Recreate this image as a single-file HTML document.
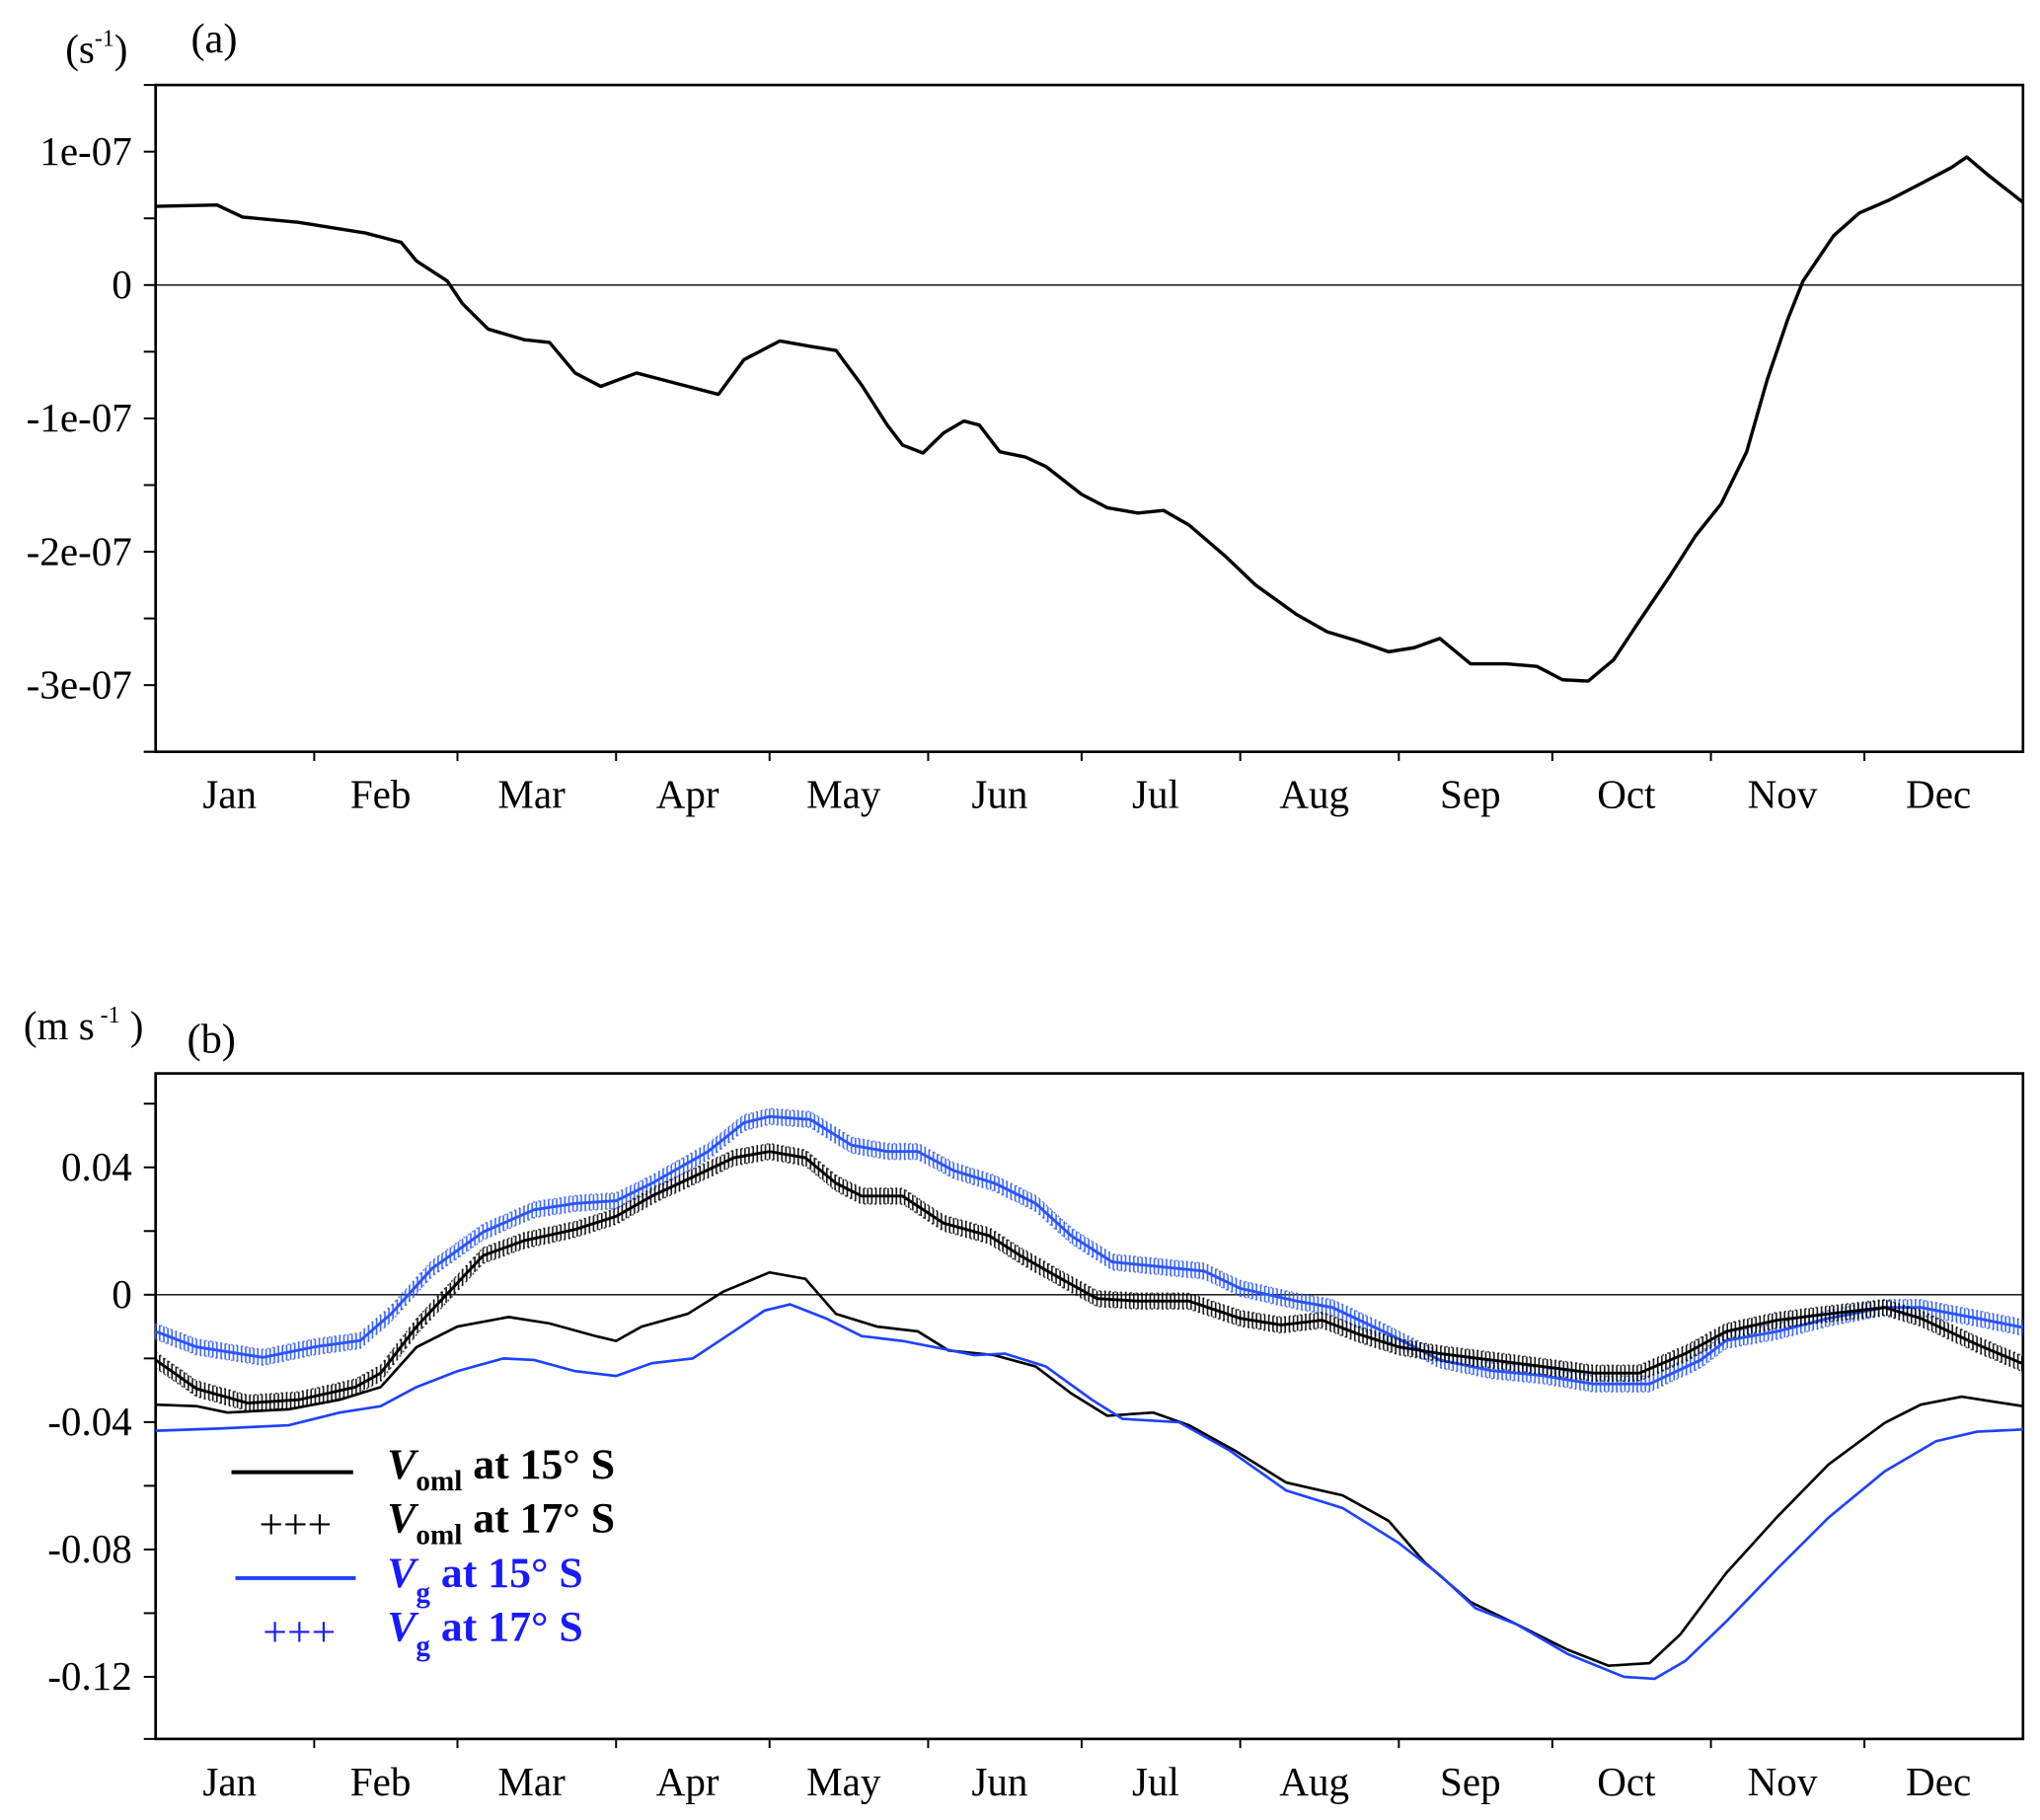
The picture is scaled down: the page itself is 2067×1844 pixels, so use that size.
<!DOCTYPE html>
<html><head><meta charset="utf-8"><style>
html,body{margin:0;padding:0;background:#fff;}
svg{display:block;font-family:"Liberation Serif",serif;}
</style></head><body>
<svg id="c" width="2067" height="1844" viewBox="0 0 1560 1392" preserveAspectRatio="none" xmlns="http://www.w3.org/2000/svg"></svg>
<script>
// ---- Data ----
const months = ["Jan","Feb","Mar","Apr","May","Jun","Jul","Aug","Sep","Oct","Nov","Dec"];
const monthDays = [31,28,31,30,31,30,31,31,30,31,30,31];
// Panel (a): units of 1e-7 s^-1
const aDays = [0,12,17,28,41,48,51,57,60,65,72,77,82,87,94,103,110,115,122,128,133,138,143,146,150,154,158,161,165,170,174,181,186,192,197,202,209,215,223,229,235,241,246,251,257,264,270,275,280,285,290,296,301,306,311,315,319,322,328,333,339,345,351,354,358,365];
const aVals = [0.59,0.6,0.51,0.47,0.39,0.32,0.18,0.03,-0.14,-0.33,-0.41,-0.43,-0.66,-0.76,-0.66,-0.75,-0.82,-0.56,-0.42,-0.46,-0.49,-0.75,-1.05,-1.2,-1.26,-1.11,-1.02,-1.05,-1.25,-1.29,-1.36,-1.57,-1.67,-1.71,-1.69,-1.8,-2.03,-2.25,-2.47,-2.6,-2.67,-2.75,-2.72,-2.65,-2.84,-2.84,-2.86,-2.96,-2.97,-2.81,-2.52,-2.18,-1.88,-1.64,-1.25,-0.71,-0.26,0.03,0.37,0.54,0.64,0.76,0.88,0.96,0.83,0.62];
const aTicks = [1,0,-1,-2,-3];
const aTickLabels = ["1e-07","0","-1e-07","-2e-07","-3e-07"];
// Panel (b): m/s
const vo15Days = [0,8,14,26,36,44,51,59,69,77,86,90,95,104,111,120,127,133,141,149,155,164,172,179,186,195,202,211,221,232,241,248,257,266,276,284,292,298,307,317,327,338,345,353,361,365];
const vo15Vals = [-0.0345,-0.035,-0.037,-0.036,-0.033,-0.029,-0.0165,-0.010,-0.007,-0.009,-0.013,-0.0145,-0.010,-0.006,0.001,0.007,0.005,-0.006,-0.010,-0.0115,-0.0175,-0.019,-0.0225,-0.031,-0.038,-0.037,-0.041,-0.049,-0.059,-0.063,-0.071,-0.084,-0.0965,-0.1035,-0.1115,-0.1165,-0.1157,-0.1067,-0.0874,-0.0697,-0.0533,-0.0402,-0.0345,-0.032,-0.034,-0.035];
const vg15Days = [0,13,26,36,44,51,59,68,74,82,90,97,105,113,119,124,131,138,146,154,160,166,174,183,189,200,210,221,232,243,251,258,266,276,287,293,299,307,317,327,338,348,356,365];
const vg15Vals = [-0.0427,-0.042,-0.041,-0.037,-0.035,-0.029,-0.024,-0.020,-0.0205,-0.024,-0.0255,-0.0215,-0.020,-0.0115,-0.005,-0.003,-0.0074,-0.013,-0.0145,-0.017,-0.019,-0.0185,-0.0225,-0.033,-0.039,-0.040,-0.049,-0.0615,-0.067,-0.078,-0.088,-0.0985,-0.1035,-0.1128,-0.12,-0.1206,-0.115,-0.1026,-0.086,-0.070,-0.0554,-0.046,-0.043,-0.0423];
const vo17Days = [0,8,18,28,39,44,51,58,64,72,82,90,97,105,113,120,127,133,138,146,154,163,169,177,184,192,202,212,220,228,235,243,251,261,271,281,290,299,307,317,327,338,345,356,365];
const vo17Vals = [-0.0205,-0.0295,-0.034,-0.033,-0.029,-0.0246,-0.010,0.002,0.0123,0.017,0.0205,0.0246,0.031,0.037,0.043,0.045,0.043,0.035,0.031,0.031,0.0225,0.0185,0.0123,0.005,-0.0012,-0.002,-0.002,-0.0074,-0.0095,-0.008,-0.0123,-0.0164,-0.0185,-0.0205,-0.0225,-0.0246,-0.0246,-0.0185,-0.0115,-0.008,-0.006,-0.004,-0.0074,-0.0156,-0.0217];
const vg17Days = [0,8,21,31,40,46,54,64,74,82,90,97,108,115,120,128,136,143,149,156,164,172,179,187,195,205,212,223,230,241,251,261,271,281,292,302,307,317,327,338,345,356,365];
const vg17Vals = [-0.0115,-0.0164,-0.0197,-0.0164,-0.0144,-0.006,0.0082,0.0197,0.0267,0.0287,0.0295,0.035,0.045,0.054,0.056,0.055,0.047,0.045,0.045,0.039,0.035,0.0287,0.0185,0.0103,0.009,0.0074,0.002,-0.002,-0.004,-0.0123,-0.0205,-0.0238,-0.0254,-0.028,-0.028,-0.0205,-0.0144,-0.0115,-0.0074,-0.004,-0.004,-0.0074,-0.0103];
const bTicks = [0.04,0,-0.04,-0.08,-0.12];
const bTickLabels = ["0.04","0","-0.04","-0.08","-0.12"];

// ---- Drawing ----
const NS="http://www.w3.org/2000/svg";
const svg=document.getElementById('c');
function mk(tag,attrs,parent){const e=document.createElementNS(NS,tag);for(const k in attrs)e.setAttribute(k,attrs[k]);(parent||svg).appendChild(e);return e;}
const L=119,R=1547;
const xS=d=>L+d*(R-L)/365;
function interp(ds,vs,d){for(let i=1;i<ds.length;i++){if(d<=ds[i]){const t=(d-ds[i-1])/(ds[i]-ds[i-1]);return vs[i-1]+t*(vs[i]-vs[i-1]);}}return vs[vs.length-1];}

function panel(name,top,bottom,vmax,vmin,ticks,labels,minorStep){
  const g=mk('g',{});
  
  
  const yS=v=>top+(vmax-v)*(bottom-top)/(vmax-vmin);
  const fr=mk('rect',{x:L,y:top,width:R-L,height:bottom-top,fill:'none',stroke:'#000','stroke-width':2},g);
  
  
  const z=mk('line',{x1:L,x2:R,y1:yS(0),y2:yS(0),stroke:'#000','stroke-width':1},g);
  
  
  for(let v=Math.ceil(vmin/minorStep)*minorStep; v<=vmax+1e-12; v+=minorStep){
    mk('line',{x1:L-9,x2:L,y1:yS(v),y2:yS(v),stroke:'#000','stroke-width':1.5},g);
  }
  ticks.forEach((v,i)=>{
    const t=mk('text',{x:101,y:yS(v)+10,'text-anchor':'end','font-size':31},g);
    t.textContent=labels[i];
    
    
  });
  mk('line',{x1:L-9,x2:L,y1:bottom,y2:bottom,stroke:'#000','stroke-width':1.5},g);
  let cum=0;
  months.forEach((m,i)=>{
    const mid=cum+monthDays[i]/2;
    cum+=monthDays[i];
    if(i<11) mk('line',{x1:xS(cum),x2:xS(cum),y1:bottom,y2:bottom+7,stroke:'#000','stroke-width':1.5},g);
    const t=mk('text',{x:xS(mid)-4,y:bottom+43,'text-anchor':'middle','font-size':31},g);
    t.textContent=m;
    
    
  });
  return {g,yS};
}

function linePath(ds,vs,yS){return ds.map((d,i)=>(i?'L':'M')+xS(d).toFixed(1)+','+yS(vs[i]).toFixed(1)).join('');}

const A=panel('panel-a',65,575,1.5,-3.5,aTicks,aTickLabels,0.5);
const pa=mk('path',{d:linePath(aDays,aVals,A.yS),fill:'none',stroke:'#000','stroke-width':2.6,'stroke-linejoin':'round'},A.g);



const B=panel('panel-b',821,1330,0.0695,-0.1395,bTicks,bTickLabels,0.02);
function plusSeries(ds,vs,color,name){
  const g=mk('g',{},B.g);
  
  
  let dU='',dL='',dV='';
  for(let d=0; d<=365; d+=0.8){
    const x=xS(d), y=B.yS(interp(ds,vs,d));
    dU+=(d?'L':'M')+x.toFixed(1)+','+(y-6).toFixed(1);
    dL+=(d?'L':'M')+x.toFixed(1)+','+(y+6).toFixed(1);
    dV+='M'+x.toFixed(1)+','+(y-6).toFixed(1)+'v12';
  }
  mk('path',{d:dV,stroke:color,'stroke-width':1.2,fill:'none',opacity:0.9},g);
  mk('path',{d:dU,stroke:color,'stroke-width':1.2,fill:'none','stroke-dasharray':'1.5 2.5',opacity:0.7},g);
  mk('path',{d:dL,stroke:color,'stroke-width':1.2,fill:'none','stroke-dasharray':'1.5 2.5',opacity:0.7},g);
  mk('path',{d:linePath(ds,vs,B.yS),stroke:color,'stroke-width':2.2,fill:'none'},g);
}
plusSeries(vg17Days,vg17Vals,'#2a55ff','vg-17s-series');
plusSeries(vo17Days,vo17Vals,'#000','voml-17s-series');
const l1=mk('path',{d:linePath(vo15Days,vo15Vals,B.yS),fill:'none',stroke:'#000','stroke-width':2},B.g);


const l2=mk('path',{d:linePath(vg15Days,vg15Vals,B.yS),fill:'none',stroke:'#2040ff','stroke-width':2},B.g);


</script>
<svg width="2067" height="1844" viewBox="0 0 1560 1392" preserveAspectRatio="none" style="position:absolute;left:0;top:0;font-family:'Liberation Serif',serif">
  <text x="50" y="48" font-size="31">(s<tspan font-size="18" dy="-13">-1</tspan><tspan dy="13">)</tspan></text>
  <text x="146" y="40" font-size="32">(a)</text>
  <text x="18" y="795" font-size="31">(m s<tspan font-size="18" dy="-13"> -1</tspan><tspan dy="13"> )</tspan></text>
  <text x="143" y="805" font-size="32">(b)</text>
  <g font-weight="bold" font-size="33">
    <line x1="177" x2="270" y1="1126" y2="1126" stroke="#000" stroke-width="3"/>
    <text x="296" y="1131"><tspan font-style="italic">V</tspan><tspan font-size="22" dy="9">oml</tspan><tspan dy="-9"> at 15° S</tspan></text>
    <text x="198" y="1177" font-weight="normal" font-size="33">+++</text>
    <text x="296" y="1172"><tspan font-style="italic">V</tspan><tspan font-size="22" dy="9">oml</tspan><tspan dy="-9"> at 17° S</tspan></text>
    <line x1="180" x2="272" y1="1207" y2="1207" stroke="#2040ff" stroke-width="3"/>
    <text x="296" y="1214" fill="#1a1aff"><tspan font-style="italic">V</tspan><tspan font-size="22" dy="11">g</tspan><tspan dy="-11"> at 15° S</tspan></text>
    <text x="201" y="1259" fill="#1a1aff" font-weight="normal" font-size="33">+++</text>
    <text x="296" y="1255" fill="#1a1aff"><tspan font-style="italic">V</tspan><tspan font-size="22" dy="11">g</tspan><tspan dy="-11"> at 17°  S</tspan></text>
  </g>
</svg>
</body></html>
